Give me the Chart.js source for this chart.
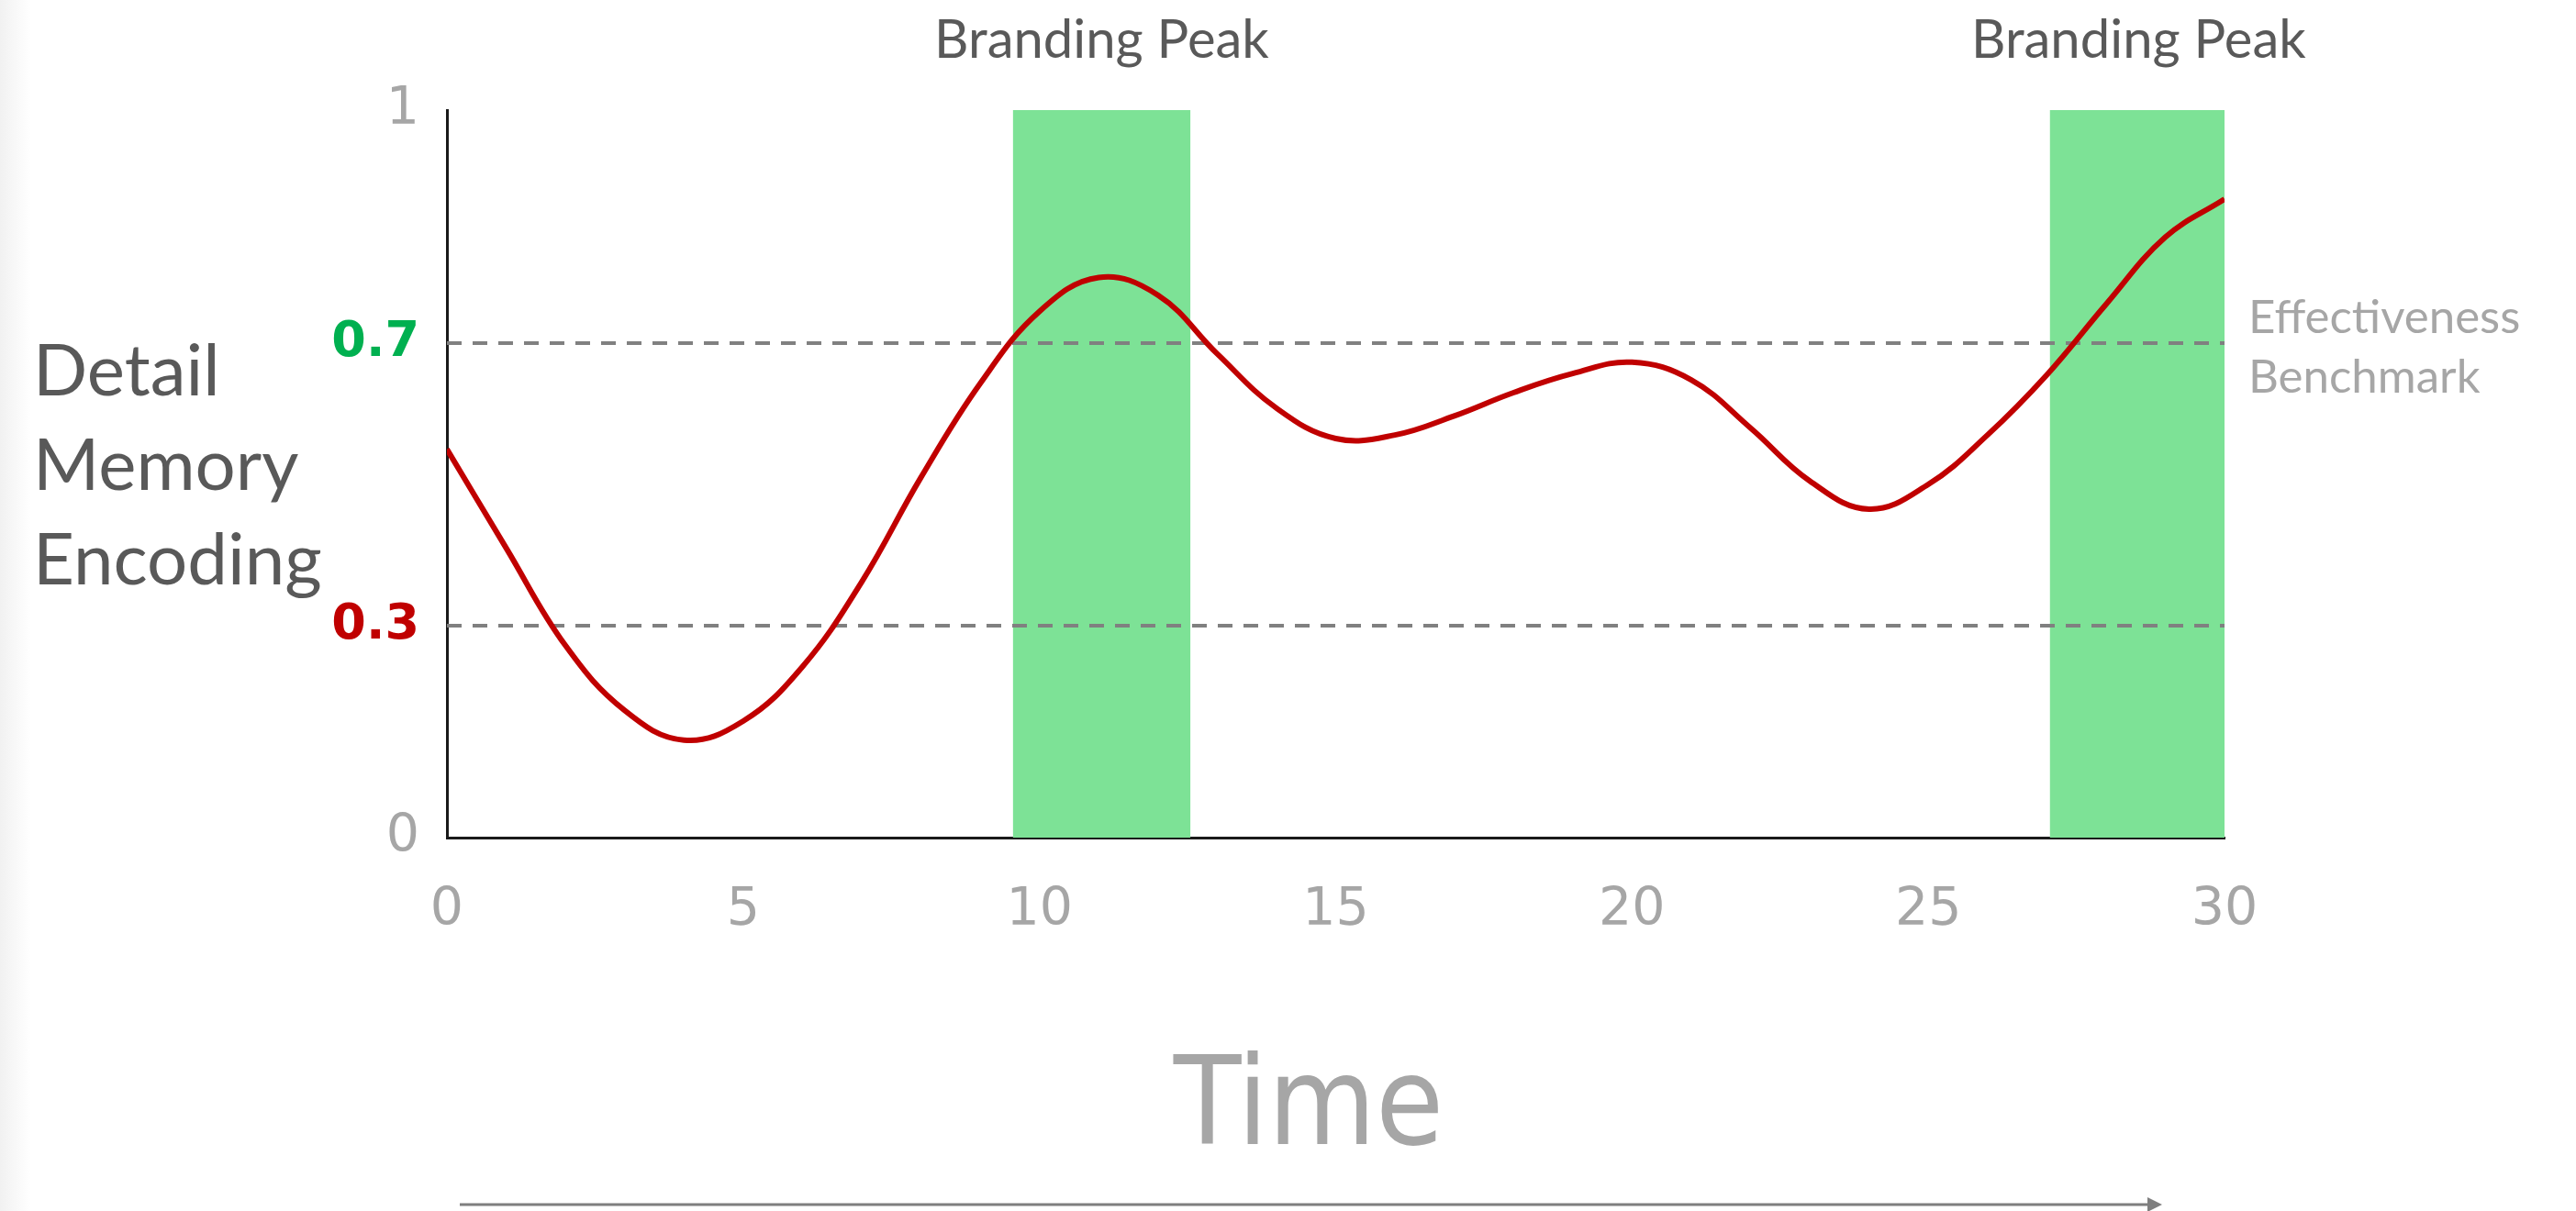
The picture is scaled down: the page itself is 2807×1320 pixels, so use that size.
<!DOCTYPE html>
<html>
<head>
<meta charset="utf-8">
<title>Detail Memory Encoding over Time</title>
<script src="https://cdn.jsdelivr.net/npm/chart.js@4.4.1/dist/chart.umd.min.js"></script>
<style>
  html, body { margin: 0; padding: 0; }
  body { background: linear-gradient(to right, #f1f1f1 0px, #f8f8f8 16px, #ffffff 34px); }
  canvas { display: block; }
</style>
</head>
<body>
<canvas id="chart" width="2807" height="1320"></canvas>
<script>
// Memory encoding level at each unit of time
const times = [0, 1, 2, 3, 4, 5, 6, 7, 8, 9, 10, 11, 12, 13, 14, 15,
               16, 17, 18, 19, 20, 21, 22, 23, 24, 25, 26, 27, 28, 29, 30];
const encoding = [0.55, 0.41, 0.272, 0.18, 0.138, 0.165, 0.242, 0.362, 0.51, 0.643, 0.745, 0.793, 0.768, 0.685, 0.608, 0.565,
                  0.57, 0.597, 0.63, 0.657, 0.673, 0.648, 0.58, 0.505, 0.465, 0.50, 0.57, 0.655, 0.755, 0.85, 0.904];

// Reference levels
const benchmarkHigh = 0.7;
const benchmarkLow = 0.3;

// Branding peak windows (start / end time)
const peakStarts = [9.55, 27.05];
const peakEnds = [12.55, 30.05];
const peakLabel = 'Branding Peak';

// Axes
const xTicks = [0, 5, 10, 15, 20, 25, 30];
const yTicks = [0, 0.3, 0.7];
const yAxisTop = 1.03;
const yTopLabel = '1';
const yTitleLines = ['Detail', 'Memory', 'Encoding'];
const benchmarkLines = ['Effectiveness', 'Benchmark'];
const xTitle = 'Time';

const RED = '#C00000';
const GREEN_TEXT = '#00B050';
const PEAK_FILL = '#7DE296';
const GREY_TEXT = '#A6A6A6';
const DARK_TEXT = '#595959';
const DASH_GREY = '#808080';

function peakDataset(i) {
  return {
    data: [{ x: peakStarts[i], y: yAxisTop }, { x: peakEnds[i], y: yAxisTop }],
    backgroundColor: PEAK_FILL,
    borderWidth: 0,
    pointRadius: 0,
    fill: 'origin',
    tension: 0,
    clip: false,
    order: 3
  };
}

function benchmarkDataset(level) {
  return {
    data: [{ x: 0, y: level }, { x: 30, y: level }],
    borderColor: DASH_GREY,
    borderWidth: 4,
    borderDash: [16, 12],
    pointRadius: 0,
    fill: false,
    tension: 0,
    order: 2
  };
}

const annotations = {
  id: 'annotations',
  afterDraw(chart) {
    const { ctx, scales } = chart;
    const xs = scales.x, ys = scales.y;
    ctx.save();

    // Vertical axis title, three stacked lines
    ctx.fillStyle = DARK_TEXT;
    ctx.font = '78px Lato';
    ctx.textAlign = 'left';
    ctx.textBaseline = 'alphabetic';
    yTitleLines.forEach((s, i) => ctx.fillText(s, 36, 431 + i * 103));

    // Peak labels centred over each window
    ctx.font = '58px Lato';
    ctx.textAlign = 'center';
    peakStarts.forEach((s, i) => {
      const cx = (xs.getPixelForValue(s) + xs.getPixelForValue(peakEnds[i])) / 2;
      ctx.fillText(peakLabel, cx, 63);
    });

    // Benchmark caption to the right of the 0.7 line
    ctx.fillStyle = GREY_TEXT;
    ctx.font = '51px Lato';
    ctx.textAlign = 'left';
    const by = ys.getPixelForValue(benchmarkHigh);
    benchmarkLines.forEach((s, i) => ctx.fillText(s, xs.right + 26, by - 11 + i * 65));

    // Horizontal axis title
    ctx.font = '134px "DejaVu Sans Condensed", "DejaVu Sans"';
    ctx.textAlign = 'center';
    ctx.fillText(xTitle, 1426, 1247);

    // Time arrow
    ctx.strokeStyle = '#7F7F7F';
    ctx.fillStyle = '#7F7F7F';
    ctx.lineWidth = 3;
    ctx.beginPath();
    ctx.moveTo(501, 1313);
    ctx.lineTo(2342, 1313);
    ctx.stroke();
    ctx.beginPath();
    ctx.moveTo(2356, 1313);
    ctx.lineTo(2340, 1305);
    ctx.lineTo(2340, 1321);
    ctx.closePath();
    ctx.fill();

    ctx.restore();
  }
};

new Chart(document.getElementById('chart'), {
  type: 'line',
  data: {
    datasets: [
      {
        data: times.map((t, i) => ({ x: t, y: encoding[i] })),
        borderColor: RED,
        borderWidth: 6,
        pointRadius: 0,
        fill: false,
        tension: 0.4,
        order: 1
      },
      benchmarkDataset(benchmarkHigh),
      benchmarkDataset(benchmarkLow),
      peakDataset(0),
      peakDataset(1)
    ]
  },
  options: {
    responsive: false,
    devicePixelRatio: 1,
    animation: false,
    events: [],
    layout: { padding: { top: 120, right: 383, left: 0, bottom: 0 } },
    plugins: { legend: { display: false }, tooltip: { enabled: false } },
    scales: {
      x: {
        type: 'linear',
        min: 0,
        max: 30,
        grid: { display: false, drawTicks: false },
        border: { display: true, color: '#1A1A1A', width: 3 },
        afterBuildTicks: s => { s.ticks = xTicks.map(v => ({ value: v })); },
        afterFit: s => { s.height = 407; },
        ticks: {
          color: GREY_TEXT,
          padding: 46,
          font: { family: 'DejaVu Sans', size: 57 },
          callback: v => String(v)
        }
      },
      y: {
        type: 'linear',
        min: 0,
        max: yAxisTop,
        grid: { display: false, drawTicks: false },
        border: { display: true, color: '#1A1A1A', width: 3 },
        afterBuildTicks: s => { s.ticks = yTicks.concat([yAxisTop]).map(v => ({ value: v })); },
        afterFit: s => { s.width = 487; },
        ticks: {
          padding: 30,
          callback: v => (v === yAxisTop ? yTopLabel : String(v)),
          color: c => c.tick.value === benchmarkHigh ? GREEN_TEXT
                    : c.tick.value === benchmarkLow ? RED : GREY_TEXT,
          font: c => (c.tick && (c.tick.value === benchmarkHigh || c.tick.value === benchmarkLow))
                    ? { family: 'DejaVu Sans', size: 54, weight: 'bold' }
                    : { family: 'DejaVu Sans', size: 57 }
        }
      }
    }
  },
  plugins: [annotations]
});
</script>
</body>
</html>
